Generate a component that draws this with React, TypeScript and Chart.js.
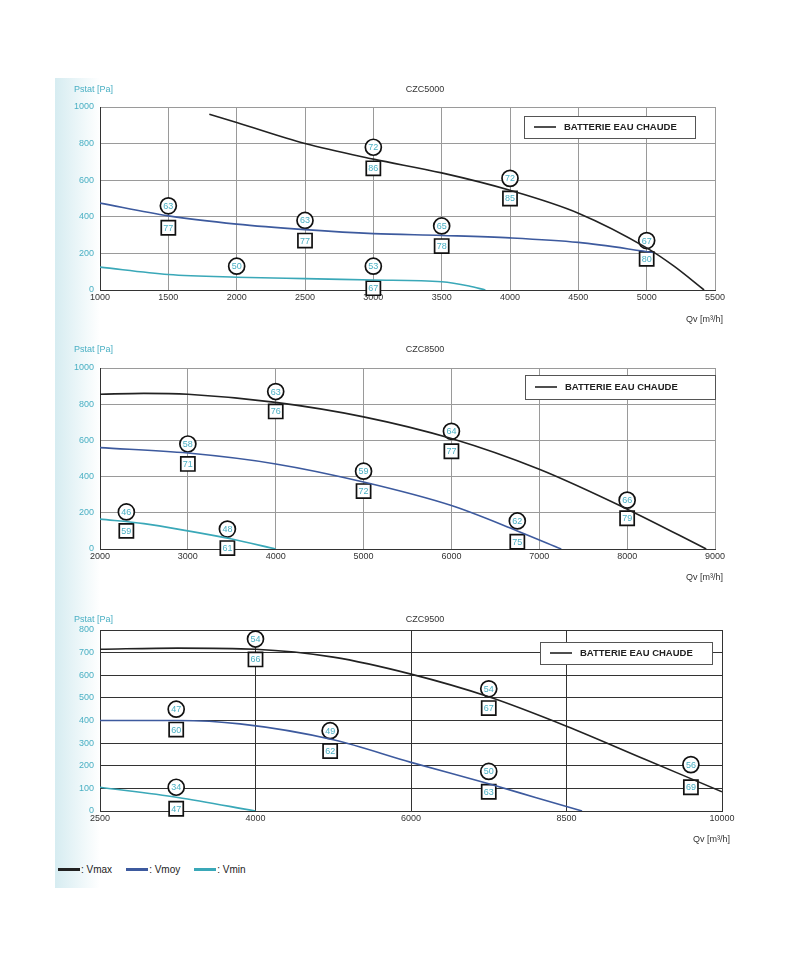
import React, { useEffect, useRef } from "react";
import { Chart, registerables } from "chart.js";
Chart.register(...registerables);

type P = { x: number; y: number };
type L = { x: number; y: number; t: string };

// CZC5000
const c1Vmax: P[] = [{x:1800,y:960},{x:2000,y:915},{x:2500,y:800},{x:3000,y:715},{x:3500,y:640},{x:4000,y:545},{x:4500,y:420},{x:5000,y:230},{x:5200,y:130},{x:5420,y:0}];
const c1Vmoy: P[] = [{x:1000,y:475},{x:1500,y:405},{x:2000,y:360},{x:2500,y:330},{x:3000,y:308},{x:3500,y:298},{x:4000,y:285},{x:4500,y:260},{x:5050,y:205}];
const c1Vmin: P[] = [{x:1000,y:125},{x:1500,y:85},{x:2000,y:70},{x:2500,y:62},{x:3000,y:55},{x:3500,y:45},{x:3700,y:22},{x:3820,y:0}];
const c1Circles: L[] = [{x:1500,y:460,t:"63"},{x:2000,y:130,t:"50"},{x:2500,y:380,t:"63"},{x:3000,y:780,t:"72"},{x:3000,y:130,t:"53"},{x:3500,y:350,t:"65"},{x:4000,y:610,t:"72"},{x:5000,y:270,t:"67"}];
const c1Squares: L[] = [{x:1500,y:340,t:"77"},{x:2500,y:270,t:"77"},{x:3000,y:665,t:"86"},{x:3000,y:10,t:"67"},{x:3500,y:240,t:"78"},{x:4000,y:500,t:"85"},{x:5000,y:170,t:"80"}];

// CZC8500
const c2Vmax: P[] = [{x:2000,y:855},{x:2500,y:860},{x:3000,y:855},{x:4000,y:810},{x:5000,y:730},{x:6000,y:610},{x:7000,y:440},{x:8000,y:220},{x:8900,y:0}];
const c2Vmoy: P[] = [{x:2000,y:560},{x:3000,y:530},{x:4000,y:470},{x:5000,y:370},{x:6000,y:240},{x:6750,y:100},{x:7250,y:0}];
const c2Vmin: P[] = [{x:2000,y:165},{x:2500,y:140},{x:3000,y:100},{x:3500,y:55},{x:4000,y:0}];
const c2Circles: L[] = [{x:2300,y:205,t:"46"},{x:3000,y:580,t:"58"},{x:3450,y:110,t:"48"},{x:4000,y:870,t:"63"},{x:5000,y:430,t:"59"},{x:6000,y:650,t:"64"},{x:6750,y:155,t:"62"},{x:8000,y:270,t:"66"}];
const c2Squares: L[] = [{x:2300,y:100,t:"59"},{x:3000,y:470,t:"71"},{x:3450,y:5,t:"61"},{x:4000,y:760,t:"76"},{x:5000,y:320,t:"72"},{x:6000,y:540,t:"77"},{x:6750,y:40,t:"75"},{x:8000,y:170,t:"79"}];

// CZC9500 (x in tick-index units; tick labels below)
const c3Ticks = ["2500", "4000", "6000", "8500", "10000"];
const c3Vmax: P[] = [{x:0,y:715},{x:0.5,y:720},{x:1,y:715},{x:1.5,y:680},{x:2,y:605},{x:2.5,y:505},{x:3,y:375},{x:3.5,y:230},{x:4,y:85}];
const c3Vmoy: P[] = [{x:0,y:400},{x:0.5,y:400},{x:0.9,y:385},{x:1.5,y:315},{x:2,y:215},{x:2.5,y:120},{x:2.8,y:60},{x:3.1,y:0}];
const c3Vmin: P[] = [{x:0,y:105},{x:0.5,y:60},{x:1,y:0}];
const c3Circles: L[] = [{x:0.49,y:450,t:"47"},{x:0.49,y:105,t:"34"},{x:1,y:760,t:"54"},{x:1.48,y:355,t:"49"},{x:2.5,y:540,t:"54"},{x:2.5,y:175,t:"50"},{x:3.8,y:205,t:"56"}];
const c3Squares: L[] = [{x:0.49,y:360,t:"60"},{x:0.49,y:10,t:"47"},{x:1,y:670,t:"66"},{x:1.48,y:265,t:"62"},{x:2.5,y:455,t:"67"},{x:2.5,y:85,t:"63"},{x:3.8,y:105,t:"69"}];

const BLACK = "#222222", BLUE = "#3d5a9e", TEAL = "#3aa8b8", LABEL = "#4bb0c4";
const FONT = "Liberation Sans, Arial, sans-serif";

type Cfg = {
  title: string; vmax: P[]; vmoy: P[]; vmin: P[]; circles: L[]; squares: L[];
  xmin: number; xmax: number; xstep: number; ymax: number; ystep: number;
  xlabels?: string[]; pad: { top: number; right: number }; xh: number;
  legend: { x: number; y: number; w: number; h: number }; grid: string; qvY: number;
};

const cfgs: Cfg[] = [
  { title: "CZC5000", vmax: c1Vmax, vmoy: c1Vmoy, vmin: c1Vmin, circles: c1Circles, squares: c1Squares,
    xmin: 1000, xmax: 5500, xstep: 500, ymax: 1000, ystep: 200, pad: { top: 27, right: 25 }, xh: 40,
    legend: { x: 464, y: 36, w: 171, h: 22 }, grid: "#9a9a9a", qvY: 240 },
  { title: "CZC8500", vmax: c2Vmax, vmoy: c2Vmoy, vmin: c2Vmin, circles: c2Circles, squares: c2Squares,
    xmin: 2000, xmax: 9000, xstep: 1000, ymax: 1000, ystep: 200, pad: { top: 28, right: 25 }, xh: 41,
    legend: { x: 465, y: 35, w: 190, h: 24 }, grid: "#9a9a9a", qvY: 238 },
  { title: "CZC9500", vmax: c3Vmax, vmoy: c3Vmoy, vmin: c3Vmin, circles: c3Circles, squares: c3Squares,
    xmin: 0, xmax: 4, xstep: 1, ymax: 800, ystep: 100, xlabels: c3Ticks, pad: { top: 20, right: 18 }, xh: 49,
    legend: { x: 480, y: 32, w: 172, h: 22 }, grid: "#333333", qvY: 230 },
];

function SubChart({ c }: { c: Cfg }) {
  const ref = useRef<HTMLCanvasElement>(null);
  useEffect(() => {
    const line = (d: P[], col: string) => ({
      type: "line" as const, data: d, borderColor: col, borderWidth: 1.6, pointRadius: 0,
      cubicInterpolationMode: "monotone" as const, fill: false,
    });
    const marks = (d: L[], style: string, r: number) => ({
      type: "scatter" as const, data: d, pointStyle: style, pointRadius: r, clip: false,
      pointBackgroundColor: "#ffffff", pointBorderColor: "#111", pointBorderWidth: 1.7,
    });
    const deco = {
      id: "deco",
      afterDatasetsDraw(ch: any) {
        const ctx = ch.ctx; const ca = ch.chartArea;
        ctx.save();
        [3, 4].forEach((i) => {
          const meta = ch.getDatasetMeta(i);
          const arr = ch.data.datasets[i].data as L[];
          meta.data.forEach((el: any, k: number) => {
            ctx.fillStyle = LABEL; ctx.font = `9px ${FONT}`;
            ctx.textAlign = "center"; ctx.textBaseline = "middle";
            ctx.fillText(arr[k].t, el.x, el.y + 0.5);
          });
        });
        ctx.fillStyle = "#333"; ctx.font = `9px ${FONT}`; ctx.textAlign = "center"; ctx.textBaseline = "middle";
        ctx.fillText(c.title, ch.width / 2 + 25, 10);
        ctx.fillStyle = LABEL; ctx.textAlign = "left";
        ctx.fillText("Pstat [Pa]", 14, 10);
        ctx.fillStyle = "#333"; ctx.textAlign = "right";
        ctx.fillText("Qv [m\u00b3/h]", ca.right + 8, c.qvY);
        const lg = c.legend;
        ctx.fillStyle = "#fff"; ctx.fillRect(lg.x, lg.y, lg.w, lg.h);
        ctx.strokeStyle = "#555"; ctx.lineWidth = 1; ctx.strokeRect(lg.x + 0.5, lg.y + 0.5, lg.w, lg.h);
        ctx.strokeStyle = BLACK; ctx.lineWidth = 1.6;
        ctx.beginPath(); ctx.moveTo(lg.x + 10, lg.y + lg.h / 2); ctx.lineTo(lg.x + 32, lg.y + lg.h / 2); ctx.stroke();
        ctx.fillStyle = "#222"; ctx.font = `bold 9.5px ${FONT}`; ctx.textAlign = "left";
        ctx.fillText("BATTERIE EAU CHAUDE", lg.x + 40, lg.y + lg.h / 2 + 0.5);
        ctx.restore();
      },
    };
    const ch = new Chart(ref.current!, {
      type: "line",
      data: { datasets: [line(c.vmax, BLACK), line(c.vmoy, BLUE), line(c.vmin, TEAL), marks(c.circles, "circle", 8), marks(c.squares, "rect", 10)] as any },
      options: {
        animation: false, responsive: false, maintainAspectRatio: false,
        layout: { padding: { top: c.pad.top, right: c.pad.right, left: 0, bottom: 0 } },
        plugins: { legend: { display: false }, tooltip: { enabled: false } },
        scales: {
          x: {
            type: "linear", min: c.xmin, max: c.xmax,
            afterFit: (s: any) => { s.height = c.xh; },
            ticks: {
              stepSize: c.xstep, color: "#333", font: { size: 9, family: FONT }, maxRotation: 0, padding: 2,
              callback: (v: any) => (c.xlabels ? c.xlabels[Math.round(v)] : String(v)),
            },
            grid: { color: c.grid, lineWidth: 1, drawTicks: false },
            border: { color: "#333" },
          },
          y: {
            min: 0, max: c.ymax,
            afterFit: (s: any) => { s.width = 40; },
            ticks: { stepSize: c.ystep, color: LABEL, font: { size: 9, family: FONT }, padding: 6, callback: (v: any) => String(v) },
            grid: { color: c.grid, lineWidth: 1, drawTicks: false },
            border: { color: "#333" },
          },
        },
      },
      plugins: [deco],
    } as any);
    return () => ch.destroy();
  }, [c]);
  return <canvas ref={ref} width={680} height={250} style={{ display: "block", width: 680, height: 250 }} />;
}

export default function App() {
  const tops = [80, 340, 610];
  const legendItems: [string, string][] = [[BLACK, "Vmax"], [BLUE, "Vmoy"], [TEAL, "Vmin"]];
  return (
    <div style={{ position: "relative", width: 784, height: 940, background: "#fff", fontFamily: FONT }}>
      <div style={{ position: "absolute", left: 47, top: 70, width: 45, height: 810,
        background: "linear-gradient(to right, #d6ecf1, #ffffff)" }} />
      {cfgs.map((c, i) => (
        <div key={c.title} style={{ position: "absolute", left: 52, top: tops[i] - 8 }}>
          <SubChart c={c} />
        </div>
      ))}
      <div style={{ position: "absolute", left: 50, top: 856, display: "flex", gap: 14, fontSize: 10, color: "#222" }}>
        {legendItems.map(([col, t]) => (
          <div key={t} style={{ display: "flex", alignItems: "center" }}>
            <span style={{ display: "inline-block", width: 22, height: 2.5, background: col, marginRight: 1 }} />
            <span>: {t}</span>
          </div>
        ))}
      </div>
    </div>
  );
}
